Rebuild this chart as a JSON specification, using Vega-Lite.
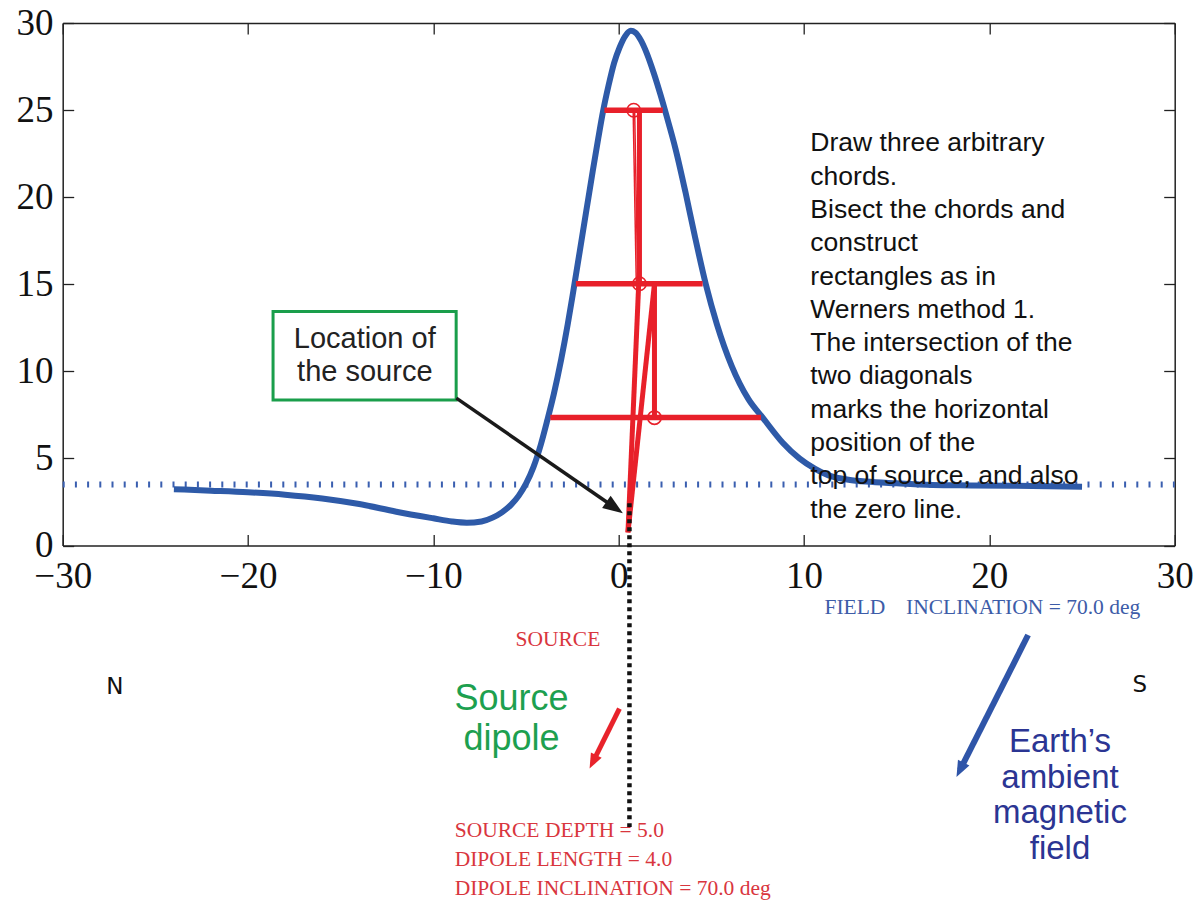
{
  "$schema": "https://vega.github.io/schema/vega-lite/v6.json",
  "width": 1112,
  "height": 522.5,
  "autosize": {"type": "none"},
  "padding": {"left": 62.7, "top": 23, "right": 29.3, "bottom": 356.5},
  "background": "white",
  "config": {
    "view": {"stroke": null},
    "axis": {
      "grid": false,
      "domainColor": "#222222",
      "domainWidth": 1.5,
      "tickColor": "#222222",
      "tickWidth": 1.3,
      "tickSize": -11,
      "labelFont": "Liberation Serif",
      "labelFontSize": 37,
      "labelColor": "#111111",
      "labelFlush": false,
      "labelOverlap": false,
      "labelBound": false
    }
  },
  "datasets": {
    "curve": [
      {"x": -24.0, "y": 3.23}, {"x": -22, "y": 3.15}, {"x": -20, "y": 3.06}, {"x": -18, "y": 2.92},
      {"x": -16, "y": 2.7}, {"x": -14, "y": 2.38}, {"x": -12, "y": 1.94}, {"x": -10, "y": 1.56},
      {"x": -9, "y": 1.38}, {"x": -8.2, "y": 1.31}, {"x": -7.4, "y": 1.38}, {"x": -6.8, "y": 1.6},
      {"x": -6.3, "y": 1.9}, {"x": -5.8, "y": 2.35}, {"x": -5.4, "y": 2.85}, {"x": -5.0, "y": 3.55},
      {"x": -4.6, "y": 4.5}, {"x": -4.2, "y": 5.8}, {"x": -3.85, "y": 7.2}, {"x": -3.5, "y": 8.7},
      {"x": -3.1, "y": 10.7}, {"x": -2.75, "y": 12.7}, {"x": -2.45, "y": 14.6}, {"x": -2.1, "y": 16.9},
      {"x": -1.75, "y": 19.2}, {"x": -1.4, "y": 21.5}, {"x": -1.1, "y": 23.4}, {"x": -0.85, "y": 24.9},
      {"x": -0.55, "y": 26.4}, {"x": -0.25, "y": 27.7}, {"x": 0.05, "y": 28.6}, {"x": 0.35, "y": 29.25},
      {"x": 0.65, "y": 29.55}, {"x": 0.9, "y": 29.45}, {"x": 1.2, "y": 29.0}, {"x": 1.5, "y": 28.3},
      {"x": 1.9, "y": 27.1}, {"x": 2.25, "y": 25.9}, {"x": 2.6, "y": 24.6}, {"x": 3.06, "y": 22.8},
      {"x": 3.6, "y": 20.3}, {"x": 4.1, "y": 17.8}, {"x": 4.7, "y": 15.0}, {"x": 5.3, "y": 12.7},
      {"x": 6.1, "y": 10.3}, {"x": 7.0, "y": 8.4}, {"x": 7.8, "y": 7.3}, {"x": 8.85, "y": 5.9},
      {"x": 9.75, "y": 5.0}, {"x": 10.6, "y": 4.4}, {"x": 11.54, "y": 3.95}, {"x": 12.4, "y": 3.78},
      {"x": 13.34, "y": 3.67}, {"x": 15, "y": 3.57}, {"x": 16.93, "y": 3.48}, {"x": 19, "y": 3.45},
      {"x": 22.32, "y": 3.42}, {"x": 25, "y": 3.38}
    ],
    "baseline": [{"x": -30, "x2": 30, "y": 3.5}],
    "chords": [
      {"x": -0.77, "x2": 2.38, "y": 24.99},
      {"x": -2.31, "x2": 4.53, "y": 15.03},
      {"x": -3.69, "x2": 7.68, "y": 7.35}
    ],
    "thick": [
      {"x": 1.12, "y": 24.99, "x2": 1.12, "y2": 15.03},
      {"x": 1.93, "y": 15.03, "x2": 1.93, "y2": 7.34},
      {"x": 1.08, "y": 15.03, "x2": 0.5, "y2": 0.75},
      {"x": 1.93, "y": 15.03, "x2": 0.5, "y2": 0.75}
    ],
    "thin": [
      {"x": 0.78, "y": 24.99, "x2": 0.95, "y2": 15.03},
      {"x": 0.86, "y": 24.99, "x2": 1.03, "y2": 15.03}
    ],
    "mids": [
      {"x": 0.81, "y": 24.99}, {"x": 1.12, "y": 15.03}, {"x": 1.93, "y": 7.34}
    ],
    "box": [{"x": -18.65, "x2": -8.77, "y": 13.44, "y2": 8.36}],
    "blackArrow": [{"x": -8.76, "y": 8.46, "x2": -0.22, "y2": 2.18}],
    "blackHead": [{"x": -0.22, "y": 2.18}],
    "redArrow": [{"x": 0.04, "y": -9.36, "x2": -1.39, "y2": -12.42}],
    "redHead": [{"x": -1.39, "y": -12.42}],
    "blueArrow": [{"x": 22.09, "y": -5.14, "x2": 18.42, "y2": -12.88}],
    "blueHead": [{"x": 18.42, "y": -12.88}],
    "sourceLine": [{"x": 0.58, "y": 2.43, "y2": -16.16}],
    "para": [{"x": 10.34, "y": 22.63, "text": "Draw three arbitrary\nchords.\nBisect the chords and\nconstruct\nrectangles as in\nWerners method 1.\nThe intersection of the\ntwo diagonals\nmarks the horizontal\nposition of the\ntop of source, and also\nthe zero line."}],
    "boxText": [{"x": -13.7, "y": 11.33, "text": "Location of\nthe source"}],
    "ns": [{"x": -27.18, "y": -8.53, "text": "N"}, {"x": 28.11, "y": -8.4, "text": "S"}],
    "dipole": [{"x": -5.78, "y": -9.45, "text": "Source\ndipole"}],
    "earth": [{"x": 23.81, "y": -11.85, "text": "Earth’s\nambient\nmagnetic\nfield"}],
    "sourceLabel": [{"x": -3.28, "y": -5.78, "text": "SOURCE"}],
    "params": [{"x": -8.85, "y": -16.74, "text": "SOURCE DEPTH = 5.0\nDIPOLE LENGTH = 4.0\nDIPOLE INCLINATION = 70.0 deg"}],
    "field": [{"x": 11.1, "y": -3.95, "text": "FIELD"}, {"x": 15.5, "y": -3.95, "text": "INCLINATION = 70.0 deg"}]
  },
  "layer": [
    {
      "data": {"name": "baseline"},
      "mark": {"type": "rule", "color": "#3a5fb0", "strokeWidth": 6, "strokeDash": [2, 10.2]},
      "encoding": {
        "x": {"field": "x", "type": "quantitative", "scale": {"domain": [-30, 30], "nice": false, "zero": false},
              "axis": {"orient": "top", "values": [-30, -20, -10, 0, 10, 20, 30], "labels": false, "title": null}},
        "x2": {"field": "x2"},
        "y": {"field": "y", "type": "quantitative", "scale": {"domain": [0, 30], "nice": false, "zero": false},
              "axis": {"orient": "right", "values": [0, 5, 10, 15, 20, 25, 30], "labels": false, "title": null}}
      }
    },
    {
      "data": {"name": "curve"},
      "mark": {"type": "line", "color": "#2e5aa8", "strokeWidth": 6, "interpolate": "monotone"},
      "encoding": {
        "x": {"field": "x", "type": "quantitative", "scale": {"domain": [-30, 30], "nice": false, "zero": false},
              "axis": {"orient": "bottom", "values": [-30, -20, -10, 0, 10, 20, 30], "title": null, "labelPadding": 23.7, "labelBaseline": "top"}},
        "y": {"field": "y", "type": "quantitative", "scale": {"domain": [0, 30], "nice": false, "zero": false},
              "axis": {"orient": "left", "values": [0, 5, 10, 15, 20, 25, 30], "title": null, "labelPadding": 20.7, "labelBaseline": "middle"}}
      }
    },
    {
      "data": {"name": "chords"},
      "mark": {"type": "rule", "color": "#e8202a", "strokeWidth": 5.5},
      "encoding": {
        "x": {"field": "x", "type": "quantitative", "axis": null},
        "x2": {"field": "x2"},
        "y": {"field": "y", "type": "quantitative", "axis": null}
      }
    },
    {
      "data": {"name": "thick"},
      "mark": {"type": "rule", "color": "#e8202a", "strokeWidth": 5},
      "encoding": {
        "x": {"field": "x", "type": "quantitative", "axis": null},
        "x2": {"field": "x2"},
        "y": {"field": "y", "type": "quantitative", "axis": null},
        "y2": {"field": "y2"}
      }
    },
    {
      "data": {"name": "thin"},
      "mark": {"type": "rule", "color": "#e8202a", "strokeWidth": 1.5},
      "encoding": {
        "x": {"field": "x", "type": "quantitative", "axis": null},
        "x2": {"field": "x2"},
        "y": {"field": "y", "type": "quantitative", "axis": null},
        "y2": {"field": "y2"}
      }
    },
    {
      "data": {"name": "mids"},
      "mark": {"type": "point", "shape": "circle", "filled": false, "color": "#e8202a", "strokeWidth": 1.6, "size": 180, "opacity": 1},
      "encoding": {
        "x": {"field": "x", "type": "quantitative", "axis": null},
        "y": {"field": "y", "type": "quantitative", "axis": null}
      }
    },
    {
      "data": {"name": "box"},
      "mark": {"type": "rect", "fill": "white", "fillOpacity": 0, "stroke": "#1a9e4b", "strokeWidth": 3},
      "encoding": {
        "x": {"field": "x", "type": "quantitative", "axis": null},
        "x2": {"field": "x2"},
        "y": {"field": "y", "type": "quantitative", "axis": null},
        "y2": {"field": "y2"}
      }
    },
    {
      "data": {"name": "sourceLine"},
      "mark": {"type": "rule", "color": "#111111", "strokeWidth": 4.5, "strokeDash": [4, 4]},
      "encoding": {
        "x": {"field": "x", "type": "quantitative", "axis": null},
        "y": {"field": "y", "type": "quantitative", "axis": null},
        "y2": {"field": "y2"}
      }
    },
    {
      "data": {"name": "blackArrow"},
      "mark": {"type": "rule", "color": "#1a1a1a", "strokeWidth": 3.5},
      "encoding": {
        "x": {"field": "x", "type": "quantitative", "axis": null},
        "x2": {"field": "x2"},
        "y": {"field": "y", "type": "quantitative", "axis": null},
        "y2": {"field": "y2"}
      }
    },
    {
      "data": {"name": "blackHead"},
      "mark": {"type": "point", "shape": "M1,0L-1,-0.75L-1,0.75Z", "filled": true, "color": "#1a1a1a", "size": 400, "angle": 34.6, "opacity": 1},
      "encoding": {
        "x": {"field": "x", "type": "quantitative", "axis": null},
        "y": {"field": "y", "type": "quantitative", "axis": null}
      }
    },
    {
      "data": {"name": "redArrow"},
      "mark": {"type": "rule", "color": "#e8232b", "strokeWidth": 5},
      "encoding": {
        "x": {"field": "x", "type": "quantitative", "axis": null},
        "x2": {"field": "x2"},
        "y": {"field": "y", "type": "quantitative", "axis": null},
        "y2": {"field": "y2"}
      }
    },
    {
      "data": {"name": "redHead"},
      "mark": {"type": "point", "shape": "M1,0L-1,-0.8L-1,0.8Z", "filled": true, "color": "#e8232b", "size": 225, "angle": 116.6, "opacity": 1},
      "encoding": {
        "x": {"field": "x", "type": "quantitative", "axis": null},
        "y": {"field": "y", "type": "quantitative", "axis": null}
      }
    },
    {
      "data": {"name": "blueArrow"},
      "mark": {"type": "rule", "color": "#2f55a8", "strokeWidth": 6},
      "encoding": {
        "x": {"field": "x", "type": "quantitative", "axis": null},
        "x2": {"field": "x2"},
        "y": {"field": "y", "type": "quantitative", "axis": null},
        "y2": {"field": "y2"}
      }
    },
    {
      "data": {"name": "blueHead"},
      "mark": {"type": "point", "shape": "M1,0L-1,-0.8L-1,0.8Z", "filled": true, "color": "#2f55a8", "size": 256, "angle": 116.8, "opacity": 1},
      "encoding": {
        "x": {"field": "x", "type": "quantitative", "axis": null},
        "y": {"field": "y", "type": "quantitative", "axis": null}
      }
    },
    {
      "data": {"name": "para"},
      "mark": {"type": "text", "font": "Liberation Sans", "fontSize": 26.5, "color": "#111111", "align": "left", "baseline": "alphabetic", "lineBreak": "\n", "lineHeight": 33.3},
      "encoding": {
        "x": {"field": "x", "type": "quantitative", "axis": null},
        "y": {"field": "y", "type": "quantitative", "axis": null},
        "text": {"field": "text"}
      }
    },
    {
      "data": {"name": "boxText"},
      "mark": {"type": "text", "font": "Liberation Sans", "fontSize": 29, "color": "#222222", "align": "center", "baseline": "alphabetic", "lineBreak": "\n", "lineHeight": 32.4},
      "encoding": {
        "x": {"field": "x", "type": "quantitative", "axis": null},
        "y": {"field": "y", "type": "quantitative", "axis": null},
        "text": {"field": "text"}
      }
    },
    {
      "data": {"name": "ns"},
      "mark": {"type": "text", "font": "DejaVu Sans", "fontSize": 23, "color": "#111111", "align": "center", "baseline": "alphabetic"},
      "encoding": {
        "x": {"field": "x", "type": "quantitative", "axis": null},
        "y": {"field": "y", "type": "quantitative", "axis": null},
        "text": {"field": "text"}
      }
    },
    {
      "data": {"name": "dipole"},
      "mark": {"type": "text", "font": "Liberation Sans", "fontSize": 36, "color": "#1da04f", "align": "center", "baseline": "alphabetic", "lineBreak": "\n", "lineHeight": 40},
      "encoding": {
        "x": {"field": "x", "type": "quantitative", "axis": null},
        "y": {"field": "y", "type": "quantitative", "axis": null},
        "text": {"field": "text"}
      }
    },
    {
      "data": {"name": "earth"},
      "mark": {"type": "text", "font": "Liberation Sans", "fontSize": 33, "color": "#2b3593", "align": "center", "baseline": "alphabetic", "lineBreak": "\n", "lineHeight": 35.7},
      "encoding": {
        "x": {"field": "x", "type": "quantitative", "axis": null},
        "y": {"field": "y", "type": "quantitative", "axis": null},
        "text": {"field": "text"}
      }
    },
    {
      "data": {"name": "sourceLabel"},
      "mark": {"type": "text", "font": "Liberation Serif", "fontSize": 21.5, "color": "#d9363e", "align": "center", "baseline": "alphabetic"},
      "encoding": {
        "x": {"field": "x", "type": "quantitative", "axis": null},
        "y": {"field": "y", "type": "quantitative", "axis": null},
        "text": {"field": "text"}
      }
    },
    {
      "data": {"name": "params"},
      "mark": {"type": "text", "font": "Liberation Serif", "fontSize": 21.5, "color": "#d9363e", "align": "left", "baseline": "alphabetic", "lineBreak": "\n", "lineHeight": 29.2},
      "encoding": {
        "x": {"field": "x", "type": "quantitative", "axis": null},
        "y": {"field": "y", "type": "quantitative", "axis": null},
        "text": {"field": "text"}
      }
    },
    {
      "data": {"name": "field"},
      "mark": {"type": "text", "font": "Liberation Serif", "fontSize": 21.5, "color": "#3d5ca8", "align": "left", "baseline": "alphabetic"},
      "encoding": {
        "x": {"field": "x", "type": "quantitative", "axis": null},
        "y": {"field": "y", "type": "quantitative", "axis": null},
        "text": {"field": "text"}
      }
    }
  ],
  "resolve": {"axis": {"x": "independent", "y": "independent"}}
}
